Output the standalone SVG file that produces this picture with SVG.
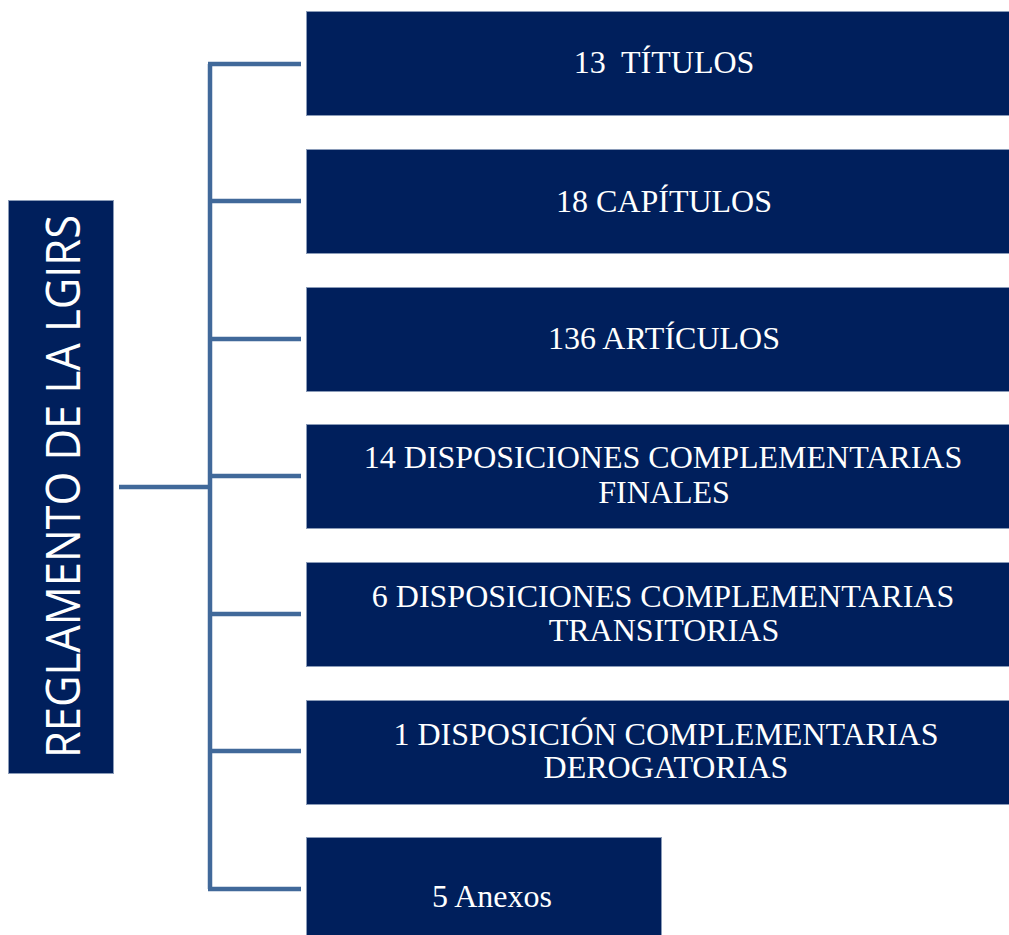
<svg xmlns="http://www.w3.org/2000/svg" width="1009" height="935" viewBox="0 0 1009 935">
<style>
.box{fill:#001f5c;stroke:#8a9bb8;stroke-width:1}
.lbl{fill:#ffffff;font-family:"Liberation Serif","Times New Roman",serif;font-size:32px;text-anchor:middle}
.root{fill:#ffffff;font-family:"Open Sans","Liberation Sans",sans-serif;font-size:48px;text-anchor:middle}
.con{stroke:#41699a;stroke-width:4.5;fill:none;stroke-linecap:butt}
</style>
<rect width="1009" height="935" fill="#ffffff"/>
<g id="connectors">
<path class="con" d="M119,487 H210"/>
<path class="con" d="M210,64 V889"/>
<path class="con" d="M208,64 H301"/>
<path class="con" d="M210,201 H301"/>
<path class="con" d="M210,339 H301"/>
<path class="con" d="M210,476 H301"/>
<path class="con" d="M210,614 H301"/>
<path class="con" d="M210,751 H301"/>
<path class="con" d="M208,889 H301"/>
</g>
<g id="root">
<rect class="box" x="8.5" y="200.5" width="105" height="573"/>
<text class="root" transform="translate(80,486.5) rotate(-90)" textLength="543" lengthAdjust="spacingAndGlyphs">REGLAMENTO DE LA LGIRS</text>
</g>
<g id="n1">
<rect class="box" x="306.5" y="11.5" width="720" height="104"/>
<text class="lbl" x="664" y="73.3" xml:space="preserve">13  TÍTULOS</text>
</g>
<g id="n2">
<rect class="box" x="306.5" y="149.5" width="720" height="104"/>
<text class="lbl" x="664" y="211.5">18 CAPÍTULOS</text>
</g>
<g id="n3">
<rect class="box" x="306.5" y="287.5" width="720" height="104"/>
<text class="lbl" x="664" y="349">136 ARTÍCULOS</text>
</g>
<g id="n4">
<rect class="box" x="306.5" y="424.5" width="720" height="104"/>
<text class="lbl" x="663" y="468.3">14 DISPOSICIONES COMPLEMENTARIAS</text>
<text class="lbl" x="664" y="503">FINALES</text>
</g>
<g id="n5">
<rect class="box" x="306.5" y="562.5" width="720" height="104"/>
<text class="lbl" x="663" y="607">6 DISPOSICIONES COMPLEMENTARIAS</text>
<text class="lbl" x="664" y="641">TRANSITORIAS</text>
</g>
<g id="n6">
<rect class="box" x="306.5" y="700.5" width="720" height="104"/>
<text class="lbl" x="666" y="745">1 DISPOSICIÓN COMPLEMENTARIAS</text>
<text class="lbl" x="666" y="778">DEROGATORIAS</text>
</g>
<g id="n7">
<rect class="box" x="306.5" y="837.5" width="355" height="110"/>
<text class="lbl" x="492" y="907">5 Anexos</text>
</g>
</svg>
